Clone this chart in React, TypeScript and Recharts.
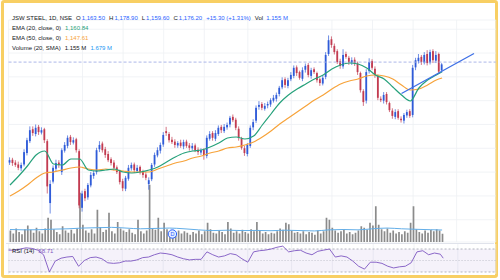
import {
  ComposedChart,
  Bar,
  Line,
  XAxis,
  YAxis,
  CartesianGrid,
  ReferenceLine,
  ReferenceArea,
  ReferenceDot,
} from 'recharts'

// daily candles, oldest first
const opens = [
  970, 976, 970, 966, 958, 966, 990, 1015, 1040, 1030,
  1045, 1033, 1040, 1015, 885, 930, 957, 970, 950, 995,
  1005, 1024, 1012, 1019, 994, 875, 910, 897, 922, 942,
  950, 998, 1010, 998, 988, 977, 970, 960, 952, 931,
  915, 936, 958, 966, 952, 961, 951, 945, 925, 935,
  966, 985, 995, 1008, 1036, 1030, 1018, 1014, 1006, 1012,
  1004, 1014, 1006, 1000, 1006, 997, 991, 997, 984, 1020,
  1032, 1020, 1030, 1045, 1036, 1044, 1050, 1066, 1060, 1041,
  1020, 1000, 988, 1005, 1044, 1058, 1087, 1093, 1083, 1090,
  1092, 1100, 1104, 1114, 1128, 1145, 1131, 1145, 1152, 1170,
  1160, 1146, 1165, 1175, 1152, 1166, 1158, 1145, 1136, 1150,
  1198, 1229, 1215, 1204, 1183, 1172, 1198, 1190, 1180, 1186,
  1178, 1158, 1120, 1100, 1162, 1183, 1167, 1152, 1104, 1100,
  1114, 1095, 1079, 1066, 1078, 1062, 1058, 1069, 1078, 1070,
  1170, 1183, 1192, 1180, 1198, 1180, 1204, 1184, 1198, 1163.5,
]
const closes = [
  975, 969, 965, 959, 965, 992, 1017, 1038, 1032, 1043,
  1034, 1038, 1017, 920, 925, 959, 969, 965, 996, 1007,
  1022, 1013, 1017, 996, 880, 905, 895, 923, 944, 948,
  996, 1007, 996, 986, 975, 969, 959, 950, 929, 916,
  938, 959, 965, 954, 959, 950, 944, 938, 933, 965,
  986, 996, 1007, 1028, 1032, 1017, 1013, 1007, 1011, 1005,
  1013, 1005, 1001, 1005, 996, 992, 996, 986, 1022, 1030,
  1022, 1032, 1043, 1038, 1045, 1049, 1064, 1059, 1043, 1022,
  1001, 990, 1007, 1043, 1055, 1085, 1091, 1085, 1089, 1093,
  1101, 1106, 1112, 1127, 1143, 1133, 1143, 1154, 1169, 1158,
  1148, 1164, 1173, 1154, 1164, 1160, 1143, 1137, 1148, 1196,
  1227, 1217, 1202, 1181, 1173, 1196, 1192, 1181, 1185, 1177,
  1160, 1122, 1097, 1160, 1181, 1169, 1154, 1106, 1101, 1112,
  1097, 1080, 1068, 1076, 1064, 1059, 1070, 1076, 1068, 1169,
  1185, 1190, 1181, 1196, 1179, 1202, 1185, 1196, 1161, 1176.2,
]
const highs = [
  981, 980, 975, 972, 970, 998, 1022, 1046, 1046, 1050,
  1049, 1044, 1043, 1019, 933, 964, 976, 975, 1000, 1013,
  1027, 1028, 1023, 1022, 998, 911, 915, 927, 950, 953,
  1001, 1015, 1014, 1003, 994, 981, 975, 964, 955, 936,
  942, 965, 970, 970, 965, 964, 955, 950, 939, 969,
  991, 1002, 1012, 1034, 1045, 1034, 1024, 1019, 1015, 1018,
  1018, 1018, 1011, 1011, 1010, 1002, 1000, 1000, 1027, 1036,
  1036, 1038, 1048, 1049, 1051, 1054, 1068, 1071, 1064, 1046,
  1024, 1005, 1011, 1048, 1061, 1090, 1099, 1097, 1095, 1098,
  1105, 1112, 1117, 1131, 1149, 1149, 1148, 1160, 1174, 1174,
  1163, 1170, 1178, 1179, 1169, 1170, 1161, 1149, 1153, 1202,
  1237, 1235, 1220, 1208, 1188, 1208, 1203, 1194, 1191, 1191,
  1182, 1161, 1124, 1166, 1189, 1187, 1172, 1155, 1109, 1118,
  1118, 1098, 1084, 1082, 1082, 1067, 1074, 1081, 1082, 1175,
  1190, 1198, 1196, 1202, 1206, 1207, 1208, 1204, 1201, 1178.9,
]
const lows = [
  965, 963, 961, 954, 952, 962, 985, 1011, 1026, 1025,
  1028, 1029, 1011, 905, 863, 926, 952, 959, 944, 991,
  1000, 1007, 1008, 991, 874, 867, 889, 892, 918, 936,
  945, 992, 991, 980, 971, 964, 953, 946, 924, 910,
  910, 932, 953, 948, 948, 945, 938, 933, 913, 931,
  961, 981, 989, 1003, 1026, 1012, 1009, 1001, 1001, 1001,
  998, 1001, 995, 995, 992, 986, 986, 976, 979, 1016,
  1016, 1015, 1026, 1032, 1032, 1039, 1044, 1055, 1038, 1016,
  997, 984, 983, 1001, 1038, 1053, 1081, 1080, 1079, 1084,
  1087, 1096, 1098, 1109, 1124, 1127, 1126, 1141, 1147, 1152,
  1144, 1141, 1159, 1149, 1146, 1156, 1138, 1131, 1132, 1145,
  1194, 1211, 1197, 1177, 1167, 1167, 1188, 1175, 1175, 1173,
  1154, 1117, 1089, 1094, 1157, 1165, 1148, 1101, 1097, 1094,
  1092, 1076, 1062, 1061, 1060, 1054, 1052, 1064, 1064, 1065,
  1164, 1178, 1175, 1176, 1174, 1176, 1179, 1179, 1157, 1159.6,
]
// volume in millions
const volumes = [
  1.6, 1.2, 1.9, 1.4, 1.1, 1.8, 2.3, 1.7, 1.3, 2.0,
  1.5, 1.2, 1.9, 3.4, 3.1, 1.8, 1.4, 1.1, 2.2, 1.6,
  1.3, 1.7, 1.2, 1.9, 6.9, 2.4, 1.6, 1.3, 1.8, 1.2,
  4.5, 2.1, 1.4, 1.7, 4.1, 1.5, 1.2, 2.8, 1.9, 1.6,
  1.4, 1.8, 1.3, 1.1, 3.1, 1.5, 1.2, 1.6, 8.0, 1.9,
  1.7, 3.4, 1.5, 2.7, 1.8, 1.3, 1.4, 1.1, 1.6, 1.2,
  1.5, 1.3, 1.0, 1.4, 1.2, 1.6, 1.1, 1.5, 2.7, 1.8,
  1.3, 1.2, 1.6, 1.4, 1.1, 2.8, 1.9, 1.3, 1.5, 1.2,
  1.7, 1.4, 1.2, 1.8, 1.5, 2.8, 1.6, 1.2, 1.4, 1.1,
  1.3, 1.2, 1.5, 1.9, 1.7, 2.7, 2.5, 1.6, 1.3, 1.4,
  1.2, 1.5, 1.1, 1.4, 1.3, 1.0, 1.6, 1.2, 1.5, 3.4,
  3.1, 2.0, 1.6, 1.3, 1.5, 1.8, 1.2, 1.4, 1.1, 1.3,
  1.6, 2.2, 2.0, 1.7, 2.7, 2.3, 5.0, 2.4, 1.8, 1.5,
  1.9, 1.3, 1.6, 1.2, 1.4, 1.1, 1.5, 1.3, 2.7, 5.0,
  1.8, 1.4, 1.2, 1.6, 1.3, 1.7, 1.5, 1.8, 1.6, 1.155,
]
// indicators read every 3rd candle (last entry = last candle)
const ema20 = [
  922.9, 941.8, 962.8, 985.9, 994.3, 967.0, 964.9, 977.5, 977.5, 954.4,
  952.3, 954.4, 956.5, 950.2, 948.1, 950.2, 954.4, 960.7, 971.2, 981.7,
  990.1, 994.3, 996.4, 1002.7, 1011.1, 1021.6, 1023.7, 1019.5, 1025.8, 1048.9,
  1072.0, 1095.1, 1111.9, 1124.5, 1135.0, 1145.5, 1153.9, 1166.5, 1174.9, 1179.1,
  1177.0, 1168.6, 1153.9, 1145.5, 1128.7, 1111.9, 1099.3, 1126.6, 1143.4, 1154.0, 1160.84,
]
const ema50 = [
  899.8, 910.3, 922.9, 937.6, 948.1, 950.2, 954.4, 958.6, 960.7, 956.5,
  954.4, 956.5, 954.4, 952.3, 950.2, 950.2, 950.2, 956.5, 962.8, 969.1,
  973.3, 979.6, 983.8, 990.1, 994.3, 1000.6, 1002.7, 1006.9, 1013.2, 1023.7,
  1036.3, 1051.0, 1063.6, 1076.2, 1088.8, 1101.4, 1111.9, 1124.5, 1135.0, 1141.3,
  1145.5, 1151.8, 1153.9, 1151.8, 1145.5, 1132.9, 1122.4, 1124.5, 1132.9, 1143.4, 1147.61,
]
// RSI every 2nd candle (last entry = last candle)
const rsi = [
  68, 68, 70, 72, 71, 68, 60, 30, 49, 54,
  56, 57, 40, 50, 55, 56, 53, 46, 45, 46,
  49, 49, 51, 55, 56, 60, 63, 62, 60, 56,
  53, 51, 52, 52, 65, 60, 56, 58, 62, 60,
  53, 47, 65, 67, 68, 70, 73, 75, 65, 67,
  68, 63, 60, 66, 68, 70, 56, 58, 56, 49,
  40, 35, 47, 47, 45, 40, 37, 39, 40, 46,
  65, 67, 60, 63, 61, 54,
]
// volume SMA every 5th candle (last entry = last candle)
const volSma = [
  1.75, 1.7, 1.72, 1.8, 1.85, 1.95, 2.0, 2.05, 1.95, 1.85,
  1.9, 1.95, 1.85, 1.7, 1.6, 1.65, 1.6, 1.62, 1.58, 1.65,
  1.6, 1.55, 1.7, 1.75, 1.7, 1.85, 1.95, 1.85, 1.78, 1.72, 1.679,
]
// hand-drawn trend line
const trendIdx = [135, 160]
const trendVal = [1115, 1199]
const hLinePrice = 1181
const dividendIdx = 56
// month starts (vertical grid)
const gridTicks = [11, 25, 39, 53, 67, 82, 97, 111, 125, 139, 154]
const priceTicks = [850, 900, 950, 1000, 1050, 1100, 1150, 1200, 1250]

const SLOTS = 168
const LAST = opens.length - 1
const BLUE = '#2f5bd8'
const RED = '#c23b50'
const GREEN = '#26a17b'
const ORANGE = '#f7a33a'
const FONT = '"Liberation Sans", Arial, sans-serif'

const rows = Array.from({ length: SLOTS }, (_, i) => {
  const row: any = { i }
  if (i <= LAST) {
    row.open = opens[i]
    row.close = closes[i]
    row.high = highs[i]
    row.low = lows[i]
    row.range = [lows[i], highs[i]]
    row.vol = volumes[i]
  }
  const k3 = i === LAST ? ema20.length - 1 : i < LAST && i % 3 === 0 ? i / 3 : -1
  if (k3 >= 0) {
    row.ema20 = ema20[k3]
    row.ema50 = ema50[k3]
  }
  const k2 = i === LAST ? rsi.length - 1 : i < LAST && i % 2 === 0 ? i / 2 : -1
  if (k2 >= 0) row.rsi = rsi[k2]
  const k5 = i === LAST ? volSma.length - 1 : i < LAST && i % 5 === 0 ? i / 5 : -1
  if (k5 >= 0) row.volSma = volSma[k5]
  const t = trendIdx.indexOf(i)
  if (t >= 0) row.trend = trendVal[t]
  return row
})

function Candle(props: any) {
  const { x, y, width, height, payload } = props
  if (payload == null || payload.low == null) return null
  const top = Math.min(y, y + height)
  const h = Math.abs(height)
  const span = payload.high - payload.low || 1
  const py = (v: number) => top + ((payload.high - v) / span) * h
  const up = payload.close >= payload.open
  const color = up ? BLUE : RED
  const cx = x + width / 2
  const bTop = py(Math.max(payload.open, payload.close))
  const bBot = py(Math.min(payload.open, payload.close))
  const bw = 1.8
  return (
    <g>
      <line x1={cx} x2={cx} y1={top} y2={top + h} stroke={color} strokeWidth={0.7} />
      <rect x={cx - bw / 2} y={bTop} width={bw} height={Math.max(bBot - bTop, 0.8)} fill={color} />
    </g>
  )
}

function DividendMark(props: any) {
  const { cx, cy } = props
  return (
    <g>
      <circle cx={cx} cy={cy} r={4.2} fill="#e3ecff" stroke="#2962ff" strokeWidth={1} />
      <text x={cx} y={cy + 2} fontSize={5.5} fontFamily={FONT} textAnchor="middle" fill="#2962ff">
        D
      </text>
    </g>
  )
}

const margin = { top: 20, right: 4.25, bottom: 2, left: 8.55 }

export default function App() {
  const txt = { position: 'absolute' as const, left: 12, fontSize: 6, lineHeight: '7px', whiteSpace: 'nowrap' as const, color: '#131722', fontFamily: FONT }
  const val = (c: string) => ({ color: c, marginLeft: 1 })
  return (
    <div style={{ position: 'fixed', left: 0, top: 0, width: 500, height: 280, background: '#fff', overflow: 'hidden' }}>
      <div
        style={{
          position: 'absolute', left: 1, top: 0, width: 497, height: 278,
          border: '3px solid #f8cf63', borderRadius: 3, boxSizing: 'border-box',
        }}
      />
      <div style={{ position: 'absolute', left: 0, top: 0 }}>
        <ComposedChart width={500} height={244} data={rows} margin={margin}>
          <XAxis xAxisId="p" dataKey="i" hide ticks={gridTicks} interval={0} />
          <XAxis xAxisId="v" dataKey="i" hide />
          <YAxis yAxisId="price" hide domain={[803.2, 1269.4]} ticks={priceTicks} allowDataOverflow />
          <YAxis yAxisId="vol" hide domain={[0, 31.08]} allowDataOverflow />
          <CartesianGrid xAxisId="p" yAxisId="price" stroke="#eef0f4" strokeWidth={0.8} />
          <ReferenceLine xAxisId="p" yAxisId="price" y={hLinePrice} stroke="#a3afe6" strokeDasharray="3 2" strokeWidth={0.9} />
          <Bar xAxisId="v" yAxisId="vol" dataKey="vol" fill="#8b8b8b" barSize={1.7} isAnimationActive={false} />
          <Line xAxisId="v" yAxisId="vol" dataKey="volSma" stroke="#63aee8" strokeWidth={1} dot={false} activeDot={false} connectNulls type="monotone" isAnimationActive={false} />
          <Bar xAxisId="p" yAxisId="price" dataKey="range" shape={Candle} barSize={2} isAnimationActive={false} />
          <Line xAxisId="p" yAxisId="price" dataKey="ema50" stroke={ORANGE} strokeWidth={1.2} dot={false} activeDot={false} connectNulls type="monotone" isAnimationActive={false} />
          <Line xAxisId="p" yAxisId="price" dataKey="ema20" stroke={GREEN} strokeWidth={1.2} dot={false} activeDot={false} connectNulls type="monotone" isAnimationActive={false} />
          <Line xAxisId="p" yAxisId="price" dataKey="trend" stroke="#3d6fe6" strokeWidth={1.3} dot={false} activeDot={false} connectNulls type="linear" isAnimationActive={false} />
          <ReferenceDot xAxisId="v" yAxisId="vol" x={dividendIdx} y={1.12} shape={DividendMark} />
        </ComposedChart>
      </div>
      <div style={{ position: 'absolute', left: 6, top: 243, width: 488, height: 1, background: '#e0e3eb' }} />
      <div style={{ position: 'absolute', left: 0, top: 244 }}>
        <ComposedChart width={500} height={30} data={rows} margin={{ top: 0, right: 4.25, bottom: 0, left: 8.55 }}>
          <XAxis dataKey="i" hide ticks={gridTicks} interval={0} />
          <YAxis hide domain={[26.5, 78.7]} allowDataOverflow />
          <CartesianGrid stroke="#eef0f4" strokeWidth={0.8} horizontal={false} />
          <ReferenceArea y1={30} y2={70} fill="#7e57c2" fillOpacity={0.08} stroke="none" />
          <ReferenceLine y={70} stroke="#a0a3ad" strokeDasharray="2 2" strokeWidth={0.8} />
          <ReferenceLine y={50} stroke="#b4b7c0" strokeDasharray="1 2" strokeWidth={0.8} />
          <ReferenceLine y={30} stroke="#a0a3ad" strokeDasharray="2 2" strokeWidth={0.8} />
          <Line dataKey="rsi" stroke="#7e57c2" strokeWidth={0.9} dot={false} activeDot={false} connectNulls type="linear" isAnimationActive={false} />
        </ComposedChart>
      </div>
      <div style={{ ...txt, top: 15 }}>
        <span>JSW STEEL, 1D, NSE</span>
        <span style={{ marginLeft: 4 }}>O</span><span style={val('#2962ff')}>1,163.50</span>
        <span style={{ marginLeft: 4 }}>H</span><span style={val('#2962ff')}>1,178.90</span>
        <span style={{ marginLeft: 4 }}>L</span><span style={val('#2962ff')}>1,159.60</span>
        <span style={{ marginLeft: 4 }}>C</span><span style={val('#2962ff')}>1,176.20</span>
        <span style={{ ...val('#2962ff'), marginLeft: 4 }}>+15.30 (+1.31%)</span>
        <span style={{ marginLeft: 4 }}>Vol</span><span style={{ ...val('#2962ff'), marginLeft: 3 }}>1.155 M</span>
      </div>
      <div style={{ ...txt, top: 25 }}>
        <span>EMA (20, close, 0)</span><span style={{ ...val(GREEN), marginLeft: 4 }}>1,160.84</span>
      </div>
      <div style={{ ...txt, top: 35 }}>
        <span>EMA (50, close, 0)</span><span style={{ ...val(ORANGE), marginLeft: 4 }}>1,147.61</span>
      </div>
      <div style={{ ...txt, top: 45 }}>
        <span>Volume (20, SMA)</span><span style={{ marginLeft: 4 }}>1.155 M</span>
        <span style={{ ...val('#2196f3'), marginLeft: 4 }}>1.679 M</span>
      </div>
      <div style={{ ...txt, top: 248 }}>
        <span>RSI (14)</span><span style={{ ...val('#7e57c2'), marginLeft: 4 }}>58.71</span>
      </div>
    </div>
  )
}
